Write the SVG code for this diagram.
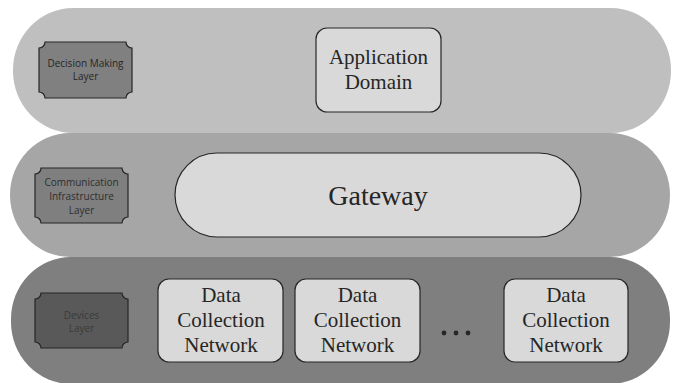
<svg xmlns="http://www.w3.org/2000/svg" width="678" height="383" viewBox="0 0 678 383">
<style>
.box{fill:#d9d9d9;stroke:#262626;stroke-width:1.2}
.plq{stroke:#262626;stroke-width:1.2}
.lbl{font-family:"Open Sans","Liberation Sans",sans-serif;font-size:10px;text-anchor:middle}
.tx{font-family:"Liberation Serif","Times New Roman",serif;font-size:21px;fill:#262626;text-anchor:middle}
</style>
<rect width="678" height="383" fill="#ffffff"/>
<g id="layer-decision">
<rect x="13" y="8" width="658" height="125" rx="60" ry="62" fill="#bfbfbf"/>
<path class="plq" fill="#808080" d="M45,42 H126 A6,6 0 0 0 132,48 V92 A6,6 0 0 0 126,98 H45 A6,6 0 0 0 39,92 V48 A6,6 0 0 0 45,42 Z"/>
<text class="lbl" fill="#262626" x="85.5" y="67">Decision Making</text>
<text class="lbl" fill="#262626" x="85.5" y="80">Layer</text>
</g>
<g id="layer-communication">
<rect x="10" y="133" width="660" height="124" rx="60" ry="62" fill="#a6a6a6"/>
<path class="plq" fill="#7f7f7f" d="M41,168 H122 A6,6 0 0 0 128,174 V217 A6,6 0 0 0 122,223 H41 A6,6 0 0 0 35,217 V174 A6,6 0 0 0 41,168 Z"/>
<text class="lbl" fill="#2e2e2e" x="81.5" y="186">Communication</text>
<text class="lbl" fill="#2e2e2e" x="81.5" y="200">Infrastructure</text>
<text class="lbl" fill="#2e2e2e" x="81.5" y="214">Layer</text>
</g>
<g id="layer-devices">
<rect x="11" y="257" width="659" height="127" rx="60" ry="62" fill="#7f7f7f"/>
<path class="plq" fill="#595959" d="M41,293 H122 A6,6 0 0 0 128,299 V342 A6,6 0 0 0 122,348 H41 A6,6 0 0 0 35,342 V299 A6,6 0 0 0 41,293 Z"/>
<text class="lbl" fill="#3a3a3a" x="81.5" y="319">Devices</text>
<text class="lbl" fill="#3a3a3a" x="81.5" y="332">Layer</text>
</g>
<g id="application-domain">
<rect class="box" x="316" y="28" width="125" height="84" rx="11"/>
<text class="tx" x="378.5" y="64" font-size="20">Application</text>
<text class="tx" x="378.5" y="89" font-size="20">Domain</text>
</g>
<g id="gateway">
<rect class="box" x="175" y="153" width="406" height="84" rx="42"/>
<text class="tx" x="378" y="205" style="font-size:28px">Gateway</text>
</g>
<g id="dcn-1">
<rect class="box" x="158" y="279" width="125" height="83" rx="11"/>
<text class="tx" x="221" y="302">Data</text>
<text class="tx" x="221" y="327">Collection</text>
<text class="tx" x="221" y="352">Network</text>
</g>
<g id="dcn-2">
<rect class="box" x="295" y="279" width="125" height="83" rx="11"/>
<text class="tx" x="357.5" y="302">Data</text>
<text class="tx" x="357.5" y="327">Collection</text>
<text class="tx" x="357.5" y="352">Network</text>
</g>
<g id="ellipsis" fill="#262626">
<circle cx="444" cy="333" r="2.4"/>
<circle cx="456" cy="333" r="2.4"/>
<circle cx="468" cy="333" r="2.4"/>
</g>
<g id="dcn-3">
<rect class="box" x="504" y="279" width="124" height="83" rx="11"/>
<text class="tx" x="566" y="302">Data</text>
<text class="tx" x="566" y="327">Collection</text>
<text class="tx" x="566" y="352">Network</text>
</g>
<g id="connectors"></g>
</svg>
